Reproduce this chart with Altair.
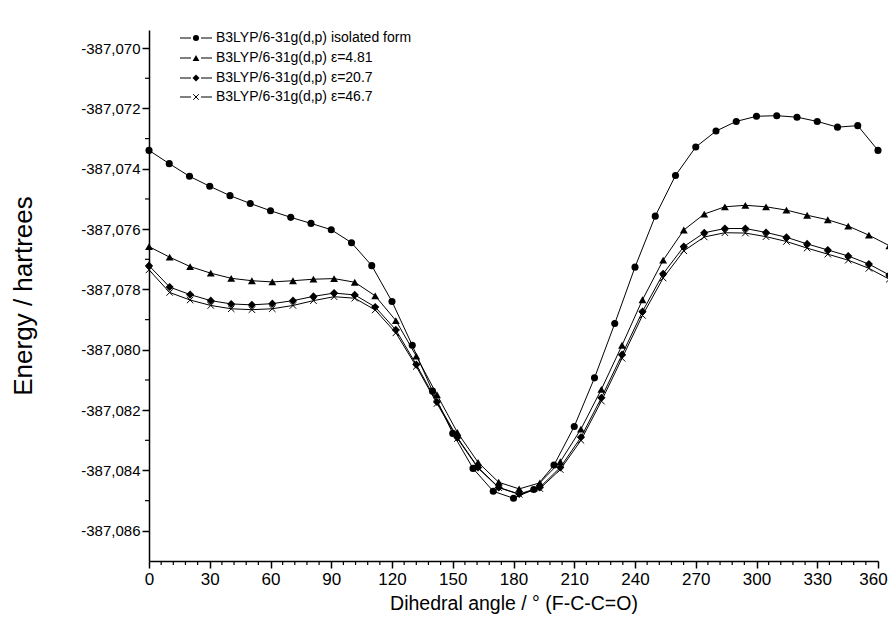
import altair as alt
import pandas as pd

# ---------------- data ----------------
angle_iso = [0, 10, 20, 30, 40, 50, 60, 70, 80, 90, 100, 110, 120, 130, 140, 150, 160, 170, 180,
             190, 200, 210, 220, 230, 240, 250, 260, 270, 280, 290, 300, 310, 320, 330, 340, 350, 360]
angle_solv = [0, 10.2, 20.3, 30.5, 40.6, 50.8, 60.9, 71.1, 81.2, 91.4, 101.6, 111.7, 121.9, 132.0,
              142.2, 152.3, 162.5, 172.7, 182.8, 193.0, 203.1, 213.3, 223.4, 233.6, 243.7, 253.9,
              264.1, 274.2, 284.4, 294.5, 304.7, 314.8, 325.0, 335.2, 345.3, 355.5, 365.6]

e_iso = [-387.07339, -387.07383, -387.07425, -387.07458, -387.07489, -387.07515, -387.07539,
         -387.07561, -387.07581, -387.07602, -387.07645, -387.07721, -387.07840, -387.07985,
         -387.08137, -387.08277, -387.08393, -387.08469, -387.08492, -387.08463, -387.08382,
         -387.08254, -387.08093, -387.07913, -387.07726, -387.07557, -387.07422, -387.07328,
         -387.07275, -387.07243, -387.07226, -387.07224, -387.07229, -387.07243, -387.07262,
         -387.07257, -387.07339]
e_481 = [-387.07658, -387.07693, -387.07724, -387.07746, -387.07763, -387.07771, -387.07775,
         -387.07771, -387.07766, -387.07764, -387.07776, -387.07821, -387.07903, -387.08021,
         -387.08149, -387.08274, -387.08373, -387.08439, -387.08461, -387.08441, -387.08371,
         -387.08263, -387.08131, -387.07985, -387.07834, -387.07703, -387.07603, -387.07550,
         -387.07526, -387.07521, -387.07526, -387.07537, -387.07554, -387.07569, -387.07590,
         -387.07620, -387.07655]
e_207 = [-387.07721, -387.07792, -387.07817, -387.07837, -387.07848, -387.07851, -387.07847,
         -387.07837, -387.07823, -387.07812, -387.07818, -387.07858, -387.07934, -387.08049,
         -387.08173, -387.08291, -387.08390, -387.08456, -387.08478, -387.08456, -387.08390,
         -387.08290, -387.08159, -387.08016, -387.07873, -387.07748, -387.07658, -387.07612,
         -387.07598, -387.07598, -387.07611, -387.07627, -387.07649, -387.07669, -387.07689,
         -387.07716, -387.07752]
e_467 = [-387.07735, -387.07810, -387.07835, -387.07853, -387.07864, -387.07867, -387.07864,
         -387.07853, -387.07837, -387.07824, -387.07829, -387.07868, -387.07944, -387.08055,
         -387.08178, -387.08294, -387.08392, -387.08457, -387.08479, -387.08460, -387.08397,
         -387.08300, -387.08170, -387.08028, -387.07886, -387.07762, -387.07672, -387.07626,
         -387.07612, -387.07613, -387.07625, -387.07641, -387.07663, -387.07683, -387.07703,
         -387.07730, -387.07766]

series_keys = ["iso", "e481", "e207", "e467"]
series_labels = ["B3LYP/6-31g(d,p) isolated form", "B3LYP/6-31g(d,p) \u03b5=4.81",
                 "B3LYP/6-31g(d,p) \u03b5=20.7", "B3LYP/6-31g(d,p) \u03b5=46.7"]

x_ticks = [0, 30, 60, 90, 120, 150, 180, 210, 240, 270, 300, 330, 360]
x_minor = [6, 12, 18, 24, 36, 42, 48, 54, 66, 72, 78, 84, 96, 102, 108, 114, 126, 132, 138, 144,
           156, 162, 168, 174, 186, 192, 198, 204, 216, 222, 228, 234, 246, 252, 258, 264, 276,
           282, 288, 294, 306, 312, 318, 324, 336, 342, 348, 354]
y_ticks = [-387.070, -387.072, -387.074, -387.076, -387.078, -387.080, -387.082, -387.084, -387.086]
y_minor = [-387.071, -387.073, -387.075, -387.077, -387.079, -387.081, -387.083, -387.085]

# ---------------- build table ----------------
rows = []
for key, xs, ys in [("iso", angle_iso, e_iso), ("e481", angle_solv, e_481),
                    ("e207", angle_solv, e_207), ("e467", angle_solv, e_467)]:
    for a, e in zip(xs, ys):
        rows.append({"series": key, "angle": a, "energy": e})
df = pd.DataFrame(rows)

W, H = 729, 531
FONT = "Liberation Sans, Arial, Helvetica, sans-serif"

x_scale = alt.Scale(domain=[0, 360], nice=False, zero=False)
y_scale = alt.Scale(domain=[-387.087, -387.0694], nice=False, zero=False)

common_axis = dict(grid=False, tickSize=7, tickWidth=1.5, tickColor="black",
                   domainColor="black", domainWidth=1.5, labelColor="black",
                   labelFont=FONT, titleFont=FONT, labelFlush=False, labelOverlap=False,
                   titleFontWeight="normal", titleColor="black")

x_axis = alt.Axis(values=x_ticks, title="Dihedral angle / \u00b0 (F-C-C=O)",
                  labelFontSize=17, labelPadding=3,
                  labelOffset=alt.ExprRef(expr="datum.value == 360 ? -5 : 0"),
                  titleFontSize=19.5, titlePadding=7, **common_axis)
y_axis = alt.Axis(values=y_ticks, title="Energy / hartrees", labelPadding=2,
                  labelFontSize=15,
                  labelExpr="replace(replace(format(datum.value, '.3f'), '.', ','), '\u2212', '-')",
                  titleFontSize=26, titlePadding=44, **common_axis)

base = alt.Chart(df).encode(
    x=alt.X("angle:Q", scale=x_scale, axis=x_axis),
    y=alt.Y("energy:Q", scale=y_scale, axis=y_axis),
)

lines = base.mark_line(color="black", strokeWidth=1).encode(detail="series:N")

XPATH = "M-1,-1L1,1M-1,1L1,-1"
marker_specs = {
    "iso": dict(shape="circle", size=50, filled=True),
    "e481": dict(shape="triangle-up", size=62, filled=True),
    "e207": dict(shape="diamond", size=66, filled=True),
    "e467": dict(shape=XPATH, size=42, filled=False),
}

point_layers = []
for key in series_keys:
    spec = marker_specs[key]
    point_layers.append(
        base.transform_filter(alt.datum.series == key).mark_point(
            shape=spec["shape"], size=spec["size"], filled=spec["filled"],
            color="black", opacity=1, strokeWidth=1)
    )

minor_x = alt.Chart(pd.DataFrame({"angle": x_minor})).mark_rule(color="black", strokeWidth=1.2).encode(
    x=alt.X("angle:Q", scale=x_scale, axis=x_axis), y=alt.value(H), y2=alt.value(H + 4))
minor_y = alt.Chart(pd.DataFrame({"energy": y_minor})).mark_rule(color="black", strokeWidth=1.2).encode(
    y=alt.Y("energy:Q", scale=y_scale, axis=y_axis), x=alt.value(0), x2=alt.value(-4))

# ---------------- legend (drawn manually, top-left inside the plot) ----------------
one = pd.DataFrame({"k": [0]})
leg_rows = [8, 28, 48, 67]
legend_layers = []
for key, lab, yy in zip(series_keys, series_labels, leg_rows):
    spec = marker_specs[key]
    legend_layers.append(alt.Chart(one).mark_rule(color="black", strokeWidth=1).encode(
        x=alt.value(31), x2=alt.value(42), y=alt.value(yy)))
    legend_layers.append(alt.Chart(one).mark_rule(color="black", strokeWidth=1).encode(
        x=alt.value(52), x2=alt.value(63), y=alt.value(yy)))
    legend_layers.append(alt.Chart(one).mark_point(
        shape=spec["shape"], size=spec["size"] * 0.75, filled=spec["filled"], color="black",
        opacity=1, strokeWidth=1).encode(x=alt.value(47), y=alt.value(yy)))
    legend_layers.append(alt.Chart(one).mark_text(
        align="left", baseline="middle", font=FONT, fontSize=14, color="black").encode(
        x=alt.value(67), y=alt.value(yy), text=alt.value(lab)))

chart = alt.layer(lines, *point_layers, minor_x, minor_y, *legend_layers).properties(
    width=W, height=H,
    autosize=alt.AutoSizeParams(type="none"),
    padding={"left": 141, "top": 22, "right": 10, "bottom": 53},
    background="white",
).configure_view(stroke=None)

chart.save("out.html", embed_options={"renderer": "svg", "actions": False})
